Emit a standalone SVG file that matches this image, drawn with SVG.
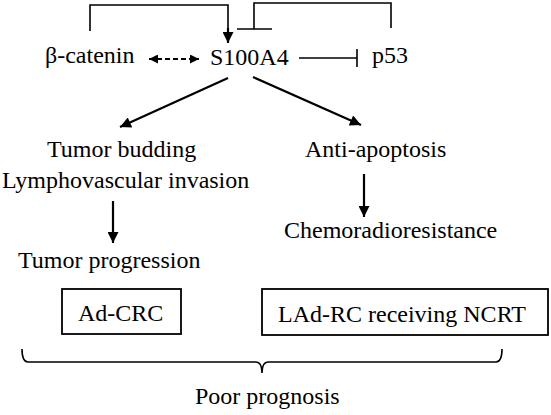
<svg xmlns="http://www.w3.org/2000/svg" width="551" height="415" viewBox="0 0 551 415">
<defs>
<style>
text{font-family:"Liberation Serif","Times New Roman",serif;font-size:24px;fill:#000}
.ln{fill:none;stroke:#000;stroke-width:1.6}
.th{fill:none;stroke:#000;stroke-width:2.2}
.box{fill:#fff;stroke:#000;stroke-width:1.8}
</style>
<marker id="ah" viewBox="0 0 10 10" refX="10" refY="5" markerWidth="14" markerHeight="11" markerUnits="userSpaceOnUse" orient="auto-start-reverse">
<path d="M0,0 L10,5 L0,10 Z" fill="#000"/>
</marker>
<marker id="ahs" viewBox="0 0 10 10" refX="10" refY="5" markerWidth="9" markerHeight="9" markerUnits="userSpaceOnUse" orient="auto-start-reverse">
<path d="M0,0 L10,5 L0,10 Z" fill="#000"/>
</marker>
</defs>
<rect width="551" height="415" fill="#fff"/>
<g id="connectors">
<path class="ln" d="M90,31 V5 H228 V30"/>
<path class="th" d="M228,28 V43" marker-end="url(#ah)"/>
<path class="ln" d="M391,28 V3 H254 V29"/>
<path class="ln" d="M237,29 H272"/>
<path class="ln" d="M299,58 H357"/>
<path class="ln" d="M357,49 V67"/>
<path class="th" d="M149,59 H199" stroke-dasharray="5,3" marker-start="url(#ahs)" marker-end="url(#ahs)"/>
<path class="th" d="M228,78 L120,127" marker-end="url(#ah)"/>
<path class="th" d="M253,77 L361,125" marker-end="url(#ah)"/>
<path class="th" d="M113,201 V243" marker-end="url(#ah)"/>
<path class="th" d="M364,174 V217" marker-end="url(#ah)"/>
<path class="ln" d="M22,349 Q22,362 28,362 H256 Q262,362 262,373 Q262,362 268,362 H496 Q502,362 502,349"/>
</g>
<g id="n-bcatenin"><text x="45" y="63">β-catenin</text></g>
<g id="n-s100a4"><text x="210" y="65">S100A4</text></g>
<g id="n-p53"><text x="372" y="63">p53</text></g>
<g id="n-tumor-budding"><text x="47" y="157">Tumor budding</text><text x="2" y="188">Lymphovascular invasion</text></g>
<g id="n-anti-apoptosis"><text x="305" y="157">Anti-apoptosis</text></g>
<g id="n-tumor-progression"><text x="18" y="268">Tumor progression</text></g>
<g id="n-chemo"><text x="284" y="238">Chemoradioresistance</text></g>
<g id="n-adcrc"><rect class="box" x="62" y="289" width="119" height="45"/><text x="78" y="321">Ad-CRC</text></g>
<g id="n-ladrc"><rect class="box" x="262" y="289" width="286" height="46"/><text x="278" y="322">LAd-RC receiving NCRT</text></g>
<g id="n-poor"><text x="195" y="404">Poor prognosis</text></g>
</svg>
